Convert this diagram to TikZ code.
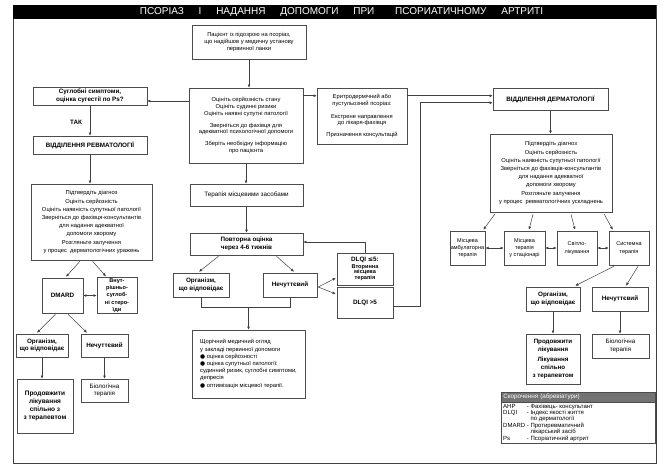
\documentclass[tikz,border=0pt]{standalone}
\usepackage{fontspec}
\setmainfont{Liberation Sans}
\newfontfamily\dejavu{DejaVu Sans}
\usetikzlibrary{arrows.meta,calc}
\tikzset{
  bx/.style={draw=black!70, line width=0.5pt, align=center, inner sep=1pt, fill=white, text=black},
  nf/.style={font=\fontsize{5.8}{6.7}\selectfont},
  nfb/.style={font=\fontsize{5.8}{8.2}\selectfont},
  tf/.style={font=\fontsize{5.5}{7.4}\selectfont},
  bf/.style={font=\fontsize{6.3}{7.4}\selectfont\bfseries},
  bfs/.style={font=\fontsize{5.6}{7.2}\selectfont\bfseries},
  bfl/.style={font=\fontsize{6.5}{8.2}\selectfont\bfseries},
  wh/.style 2 args={minimum width=#1, minimum height=#2},
  arr/.style={draw=black!75, line width=0.5pt, -{Latex[length=3.2pt,width=2.8pt]}},
  dbl/.style={draw=black!75, line width=0.5pt, {Latex[length=3.2pt,width=2.8pt]}-{Latex[length=3.2pt,width=2.8pt]}},
  ln/.style={draw=black!75, line width=0.5pt},
}
\begin{document}
\begin{tikzpicture}[x=1pt,y=-1pt]
\useasboundingbox (0,0) rectangle (663,473);
% frame and title bar
\draw[black!75, line width=0.7pt] (13,5) rectangle (656,463);
\fill[black] (13,5) rectangle (656,19);
\node[text=white, font=\fontsize{10}{11}\selectfont, inner sep=0pt] (title) at (341.5,12)
  {ПСОРІАЗ\hspace{12pt} І\hspace{12pt} НАДАННЯ\hspace{12pt} ДОПОМОГИ\hspace{12pt} ПРИ\hspace{18pt} ПСОРИАТИЧНОМУ\hspace{12pt} АРТРИТІ};

% top centre
\node[bx,nf,wh={114}{34}] (p1) at (249,42) {Пацієнт із підозрою на псоріаз,\\ що надійшов у медичну установу\\ первинної ланки};
\node[bx,nf,wh={114}{75}] (eval) at (246,125.5) {Оцініть серйозність стану\\ Оцініть судинні ризики\\ Оцініть наявні супутні патології\\[5pt] Зверніться до фахівця для\\ адекватної психологічної допомоги\\[5pt] Зберіть необхідну інформацію\\ про пацієнта};

% left column
\node[bx,bf,wh={114}{18}] (joint) at (90,96) {Суглобні симптоми,\\ оцінка сугестії по Ps?};
\node[bf, inner sep=1pt] (tak) at (76,122) {ТАК};
\node[bx,bf,wh={114}{18}] (rheum) at (90,145) {ВІДДІЛЕННЯ РЕВМАТОЛОГІЇ};
\node[bx,nfb,wh={121}{76}] (lbig) at (91.5,222) {Підтвердіть діагноз\\ Оцініть серйозність\\ Оцініть наявність супутньої патології\\ Зверніться до фахівця-консультантів\\ для надання адекватної\\ допомоги хворому\\ Розгляньте залучення\\ у процес\ \ дерматологічних уражень};
\node[bx,bf,wh={41}{35}] (dmard) at (62.5,295.5) {DMARD};
\node[bx,bfs,wh={40}{35}] (intra) at (117,295.5) {Внут-\\рішньо-\\суглоб-\\ні стеро-\\їди};
\node[bx,bf,wh={52}{23}] (lorg) at (42,345.5) {Організм,\\ що відповідає};
\node[bx,bf,wh={47}{23}] (lnon) at (104.5,345.5) {Нечуттєвий};
\node[bx,bfl,wh={56}{54}] (lcont) at (45,406) {Продовжити\\ лікування\\ спільно з\\ з терапевтом};
\node[bx,font=\fontsize{6.2}{7.6}\selectfont,wh={47}{23}] (lbio) at (104.5,390.5) {Біологічна\\ терапія};

% middle column
\node[bx,font=\fontsize{6.3}{7.4}\selectfont,wh={113}{22}] (topic) at (246.5,195) {Терапія місцевими засобами};
\node[bx,bf,wh={113}{22}] (reev) at (246.5,244) {Повторна оцінка\\ через 4-6 тижнів};
\node[bx,bf,wh={56}{24}] (morg) at (201,285) {Організм,\\ що відповідає};
\node[bx,bf,wh={54}{24}] (mnon) at (290,285) {Нечуттєвий};
\node[bx,bfs,wh={56}{32}] (dlqa) at (365,269) {{\fontsize{6.3}{7}\selectfont DLQI {\dejavu ≤}5:}\\[-1pt] Вторинна\\[-1.5pt] місцева\\[-1.5pt] терапія};
\node[bx,bf,wh={56}{31}] (dlqb) at (365,302.5) {DLQI >5};
\node[bx,font=\fontsize{5.8}{7.2}\selectfont,wh={113}{68},align=left] (ann) at (248.5,364) {Щорічний медичний огляд\\ у закладі первинної допомоги\\ {\dejavu ●} оцінка серйозності\\ {\dejavu ●} оцінка супутньої патології:\\ судинний ризик, суглобні симптоми,\\ депресія\\ {\dejavu ●} оптимізація місцевої терапії.};
\node[bx,nf,wh={90}{56}] (ery) at (362,116) {Еритродермічний або\\ пустульозний псоріаз:\\[6pt] Екстрене направлення\\ до лікаря-фахівця\\[5pt] Призначення консультацій};

% right column
\node[bx,bf,wh={115}{22}] (derm) at (550.5,99) {ВІДДІЛЕННЯ ДЕРМАТОЛОГІЇ};
\node[bx,nfb,wh={122}{78}] (rbig) at (551,173) {Підтвердіть діагноз\\ Оцініть серйозність\\ Оцініть наявність супутньої патології\\ Зверніться до фахівців-консультантів\\ для надання адекватної\\ допомоги хворому\\ Розгляньте залучення\\ у процес\ \ ревматологічних ускладнень};
\node[bx,tf,wh={32}{34}] (t1) at (467.5,248) {Місцева\\ амбулаторна\\ терапія};
\node[bx,tf,wh={41}{34}] (t2) at (524.5,248) {Місцева\\ терапія\\ у стаціонарі};
\node[bx,tf,wh={40}{34}] (t3) at (577,248) {Світло-\\ лікування};
\node[bx,tf,wh={40}{34}] (t4) at (629,248) {Системна\\ терапія};
\node[bx,bf,wh={54}{24}] (rorg) at (553,299) {Організм,\\ що відповідає};
\node[bx,bf,wh={56}{24}] (rnon) at (620,299) {Нечуттєвий};
\node[bx,font=\fontsize{6.2}{7.8}\selectfont\bfseries,wh={54}{50}] (rcont) at (553,359) {Продовжити\\ лікування\\[3pt] Лікування\\ спільно\\ з терапевтом};
\node[bx,font=\fontsize{6.2}{7.6}\selectfont,wh={57}{24}] (rbio) at (620.5,346) {Біологічна\\ терапія};

% legend
\node[draw=black!70, line width=0.5pt, wh={154}{51}, anchor=north west, inner sep=0pt] (leg) at (501,392) {};
\node[fill=black!55, draw=black!70, line width=0.5pt, anchor=north west, minimum width=154, minimum height=10, inner sep=1pt, text=white, font=\fontsize{6.3}{7}\selectfont, align=left, text width=150] (leghead) at (leg.north west) {Скорочення (абревіатури)};
\node[anchor=north west, inner sep=0pt, font=\fontsize{6}{6.4}\selectfont] (legtext) at (503,403.5)
 {\begin{tabular}{@{}l@{\ }l@{\ }l@{}}
  AHP & - & Фахівець- консультант\\
  DLQI & - & Індекс якості життя\\
   & & по дерматології\\
  DMARD & - & Протиревматичний\\
   & & лікарський засіб\\
  Ps & - & Псоріатичний артрит
 \end{tabular}};

% connectors
\draw[arr] (p1.south) -- (p1.south |- eval.north);
\draw[arr] ($(eval.west |- joint.east)+(0,5)$) -- ($(joint.east)+(0,5)$);
\draw[arr] (joint.south) -- (rheum.north);
\draw[arr] (rheum.south) -- (lbig.north -| rheum.south);
\draw[arr] ($(eval.north east)+(0,8)$) -- ($(ery.north west)+(0,8)$);
\draw[arr] ($(ery.north east)+(0,8)$) -- ($(derm.north west)+(0,8)$);
\draw[arr] ($(dlqb.east)+(0,4)$) -- ++(27,0) |- ($(derm.north west)+(0,15)$);
\draw[arr] (derm.south) -- (derm.south |- rbig.north);
\draw[arr] ($(rbig.south west)+(5,2)$) -- ($(t1.north east)+(-2,-1)$);
\draw[arr] ($(rbig.south)+(-18,2)$) -- ($(t2.north)+(4.5,-1)$);
\draw[arr] ($(rbig.south)+(20,2)$) -- ($(t3.north)+(-2,-1)$);
\draw[arr] ($(rbig.south east)+(-8,2)$) -- ($(t4.north west)+(4,-1)$);
\draw[dbl] (t1.east) -- (t2.west);
\draw[dbl] (t2.east) -- (t3.west);
\draw[dbl] (t3.east) -- (t4.west);
\draw[arr] ($(t4.south)+(-15,1)$) -- ($(rorg.north east)+(-5,-1)$);
\draw[arr] ($(t4.south)+(9,1)$) -- ($(rnon.north)+(6,-1)$);
\draw[arr] (rorg.south) -- (rcont.north);
\draw[arr] (rnon.south) -- (rnon.south |- rbio.north);

\draw[arr] (eval.south) -- (eval.south |- topic.north);
\draw[arr] (topic.south) -- (reev.north);
\draw[arr] ($(reev.south)+(-28,1)$) -- ($(morg.north)+(-2,-1)$);
\draw[arr] ($(reev.south)+(30,1)$) -- ($(mnon.north)+(4,-1)$);
\draw[arr] ($(mnon.east)+(1,2)$) -- ($(dlqa.west)+(-1,9)$);
\draw[arr] ($(mnon.east)+(1,2)$) -- ($(dlqb.west)+(-1,-8.5)$);
\draw[arr] (dlqa.north) |- ($(reev.east)+(0,-2)$);
\coordinate (mrg) at ($(morg.south)+(0,10)$);
\draw[ln] (morg.south) -- (mrg) -| (mnon.south);
\draw[arr] (ann.north |- mrg) -- (ann.north);

\draw[arr] ($(lbig.south)+(-11.5,1)$) -- ($(dmard.north)+(3.5,-1)$);
\draw[arr] ($(lbig.south)+(1,1)$) -- ($(intra.north)+(-11,-1)$);
\draw[dbl] (dmard.east) -- (intra.west);
\draw[arr] ($(dmard.south)+(-7,1)$) -- ($(lorg.north)+(-5,-1)$);
\draw[arr] ($(dmard.south)+(5.5,1)$) -- ($(lnon.north)+(-17.5,-1)$);
\draw[arr] (lorg.south) -- (lorg.south |- lcont.north);
\draw[arr] (lnon.south) -- (lnon.south |- lbio.north);
\end{tikzpicture}
\end{document}
